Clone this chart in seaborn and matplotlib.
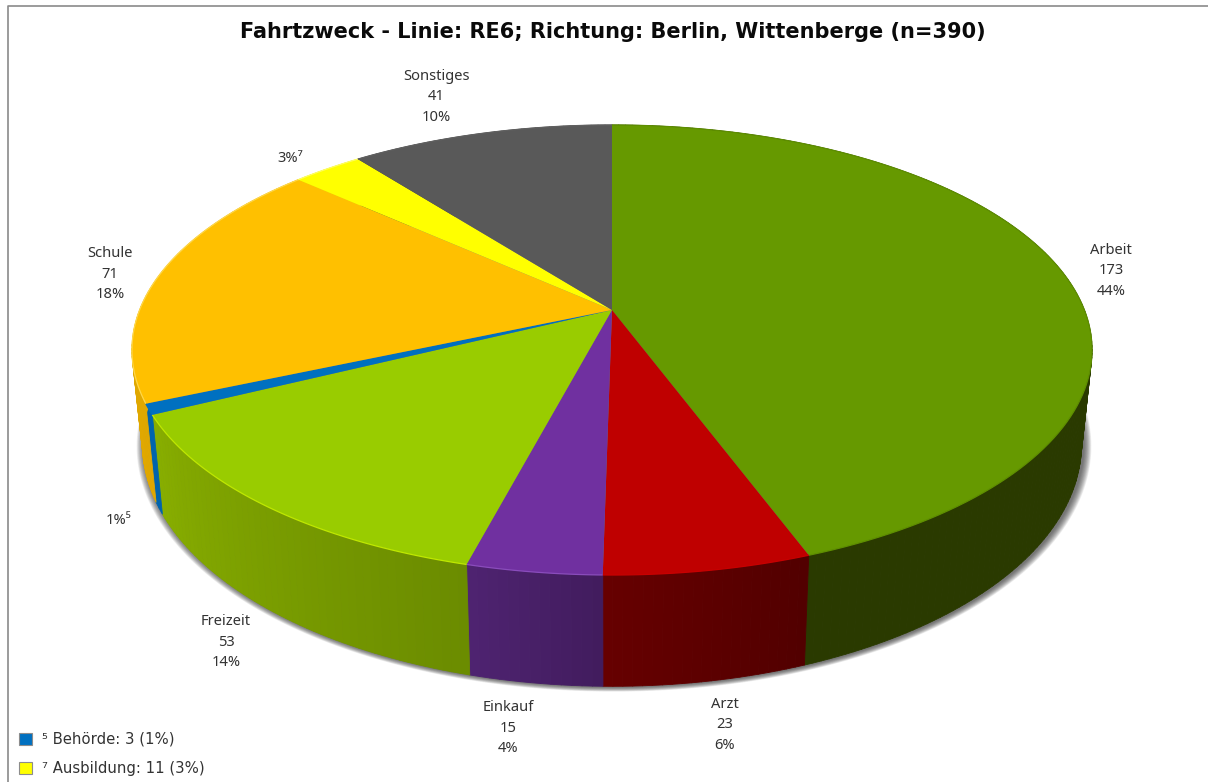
import numpy as np
import matplotlib
matplotlib.use("Agg")
import matplotlib.pyplot as plt
from matplotlib.collections import PolyCollection
from matplotlib.patches import Patch, Polygon
from matplotlib.transforms import Transform
import seaborn as sns

# --- data ---
TITLE = "Fahrtzweck - Linie: RE6; Richtung: Berlin, Wittenberge (n=390)"
categories = ["Arbeit", "Arzt", "Einkauf", "Freizeit", "Behörde", "Schule", "Ausbildung", "Sonstiges"]
counts = [173, 23, 15, 53, 3, 71, 11, 41]
percents = [44, 6, 4, 14, 1, 18, 3, 10]
footnotes = {"Behörde": "⁵", "Ausbildung": "⁷"}

# --- styles ---
top_colors = ["#669900", "#BF0000", "#7030A0", "#99CC00", "#0070C0", "#FFC000", "#FFFF00", "#595959"]
side_left = ["#2A3A00", "#520000", "#421C5E", "#6B8C00", "#0064AD", "#E0A800", "#E0E000", "#404040"]
side_right = ["#2A3A00", "#660000", "#4E2370", "#88AE00", "#0064AD", "#E0A800", "#E0E000", "#404040"]
rim_colors = ["#5E8E00", "#C80000", "#8A4CBC", "#BFE800", "#0070C0", "#FFD84A", "#FFFF60", "#606060"]
label_xy = [(1111, 271), (725, 725), (508, 728), (226, 642), (119, 521), (110, 274), (290, 158), (436, 97)]

W, H = 1208, 782
CX, CY, R, A, K = 612.0, 310.0, 472.4, 217.9, 0.1778
DEPTH, SHRINK = 91.5, 0.978
FONT = ["Noto Sans", "DejaVu Sans"]

sns.set_theme(style="white")
plt.rcParams["font.family"] = FONT
palette = sns.color_palette(top_colors)


class Perspective(Transform):
    input_dims = output_dims = 2
    is_separable = False
    has_inverse = False

    def transform_non_affine(self, pts):
        pts = np.asarray(pts, float)
        w = 1 + K * pts[:, 1]
        return np.column_stack([CX + R * pts[:, 0] / w, CY - A * pts[:, 1] / w])


def rim(t):
    """Top and bottom rim (pixels) for clockwise angles from 12 o'clock."""
    X, Y = np.sin(t), np.cos(t)
    w = 1 + K * Y
    xt, yt = CX + R * X / w, CY - A * Y / w
    xb, yb = CX + SHRINK * (xt - CX), yt + DEPTH / w
    return xt, yt, xb, yb


fig = plt.figure(figsize=(W / 100, H / 100), dpi=100, facecolor="white")
ax = fig.add_axes([0, 0, 1, 1])

wedges, _ = ax.pie(counts, colors=palette, startangle=90, counterclock=False,
                   radius=1, center=(0, 0), wedgeprops=dict(linewidth=0, zorder=5))
ax.set_aspect("auto")
ax.set_xlim(0, W)
ax.set_ylim(H, 0)
ax.set_axis_off()

projection = Perspective()
for wd in wedges:
    wd.set_transform(projection + ax.transData)
    wd.set_clip_on(False)

# drop shadow: stacked translucent copies of the lower disc
tt = np.linspace(0, 2 * np.pi, 361)
_, _, xb, yb = rim(tt)
for i in range(14, 0, -1):
    s = 1 + i * 0.0012
    ax.add_patch(Polygon(np.column_stack([CX + (xb - CX) * s + 2.0,
                                          yb + 0.5 + (yb - 350) * (s - 1) * 0.85]),
                         closed=True, fc="#303030", ec="none", alpha=0.07, zorder=1))

# pie sides with horizontal gradient
fractions = np.cumsum([0] + counts) / sum(counts) * 2 * np.pi
for i in range(len(counts)):
    a0, a1 = fractions[i], fractions[i + 1]
    edges = np.linspace(a0, a1, max(3, int((a1 - a0) * 60)))
    xt, yt, xbo, ybo = rim(edges)
    c0 = np.array(matplotlib.colors.to_rgb(side_right[i]))
    c1 = np.array(matplotlib.colors.to_rgb(side_left[i]))
    polys, cols = [], []
    for j in range(len(edges) - 1):
        polys.append([(xt[j], yt[j]), (xt[j + 1], yt[j + 1]), (xbo[j + 1], ybo[j + 1]), (xbo[j], ybo[j])])
        f = j / max(1, len(edges) - 2)
        cols.append(c1 + (c0 - c1) * f)
    ax.add_collection(PolyCollection(polys, facecolors=cols, edgecolors=cols, linewidths=0.6, zorder=2))
    # rim highlight on the top face
    fine = np.linspace(a0, a1, 120)
    xr, yr, _, _ = rim(fine)
    ax.plot(xr, yr, color=rim_colors[i], lw=0.9, zorder=6, solid_capstyle="butt")

# labels
text_color = "#333333"
for name, n, p, (x, y) in zip(categories, counts, percents, label_xy):
    if name in footnotes:
        label = f"{p}%{footnotes[name]}"
    else:
        label = f"{name}\n{n}\n{p}%"
    ax.text(x, y, label, ha="center", va="center", fontsize=10.6, color=text_color,
            linespacing=1.46, zorder=8)

title = ax.text(613, 32, TITLE, ha="center", va="center", fontsize=16, fontweight="bold",
                family=["DejaVu Sans"], color="#0A0A0A", zorder=8)
renderer = fig.canvas.get_renderer()
title.set_fontsize(16 * 745 / title.get_window_extent(renderer).width)

# frame
ax.plot([7.5, 7.5, W], [H, 6, 6], color="#8A8A8A", lw=1.2, zorder=8, solid_capstyle="butt")

# legend of the footnoted categories
handles = [Patch(fc=palette[categories.index(name)], ec="#8C8C8C", lw=0.8,
                 label=f"{mark} {name}: {counts[categories.index(name)]} ({percents[categories.index(name)]}%)")
           for name, mark in footnotes.items()]
leg = ax.legend(handles=handles, loc="lower left", bbox_to_anchor=(15.5 / W, 2.5 / H),
                bbox_transform=fig.transFigure, frameon=False,
                prop={"family": ["DejaVu Sans"], "size": 10.7},
                labelspacing=0.93, handlelength=0.86, handleheight=0.86,
                handletextpad=0.7, borderpad=0.25, borderaxespad=0)
for t in leg.get_texts():
    t.set_color(text_color)

fig.savefig("out.png", dpi=100, facecolor="white")
